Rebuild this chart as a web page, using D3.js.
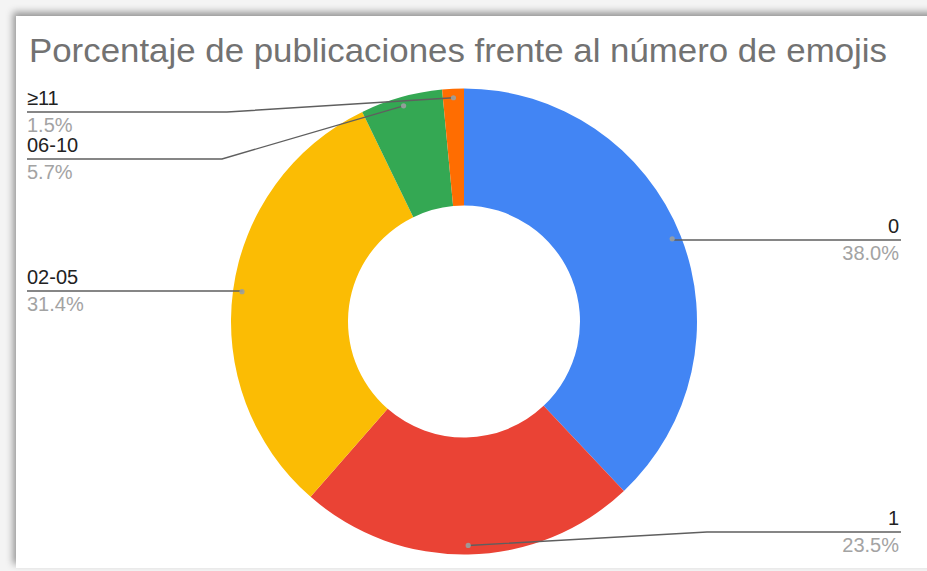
<!DOCTYPE html>
<html>
<head>
<meta charset="utf-8">
<script src="https://cdn.jsdelivr.net/npm/d3@7"></script>
<style>
  html, body { margin: 0; padding: 0; background: #f4f4f4; }
  #card {
    position: absolute; left: 16px; top: 16px; width: 930px; height: 552px;
    background: #ffffff;
    box-shadow: -3px -4px 7px rgba(0,0,0,0.38);
  }
  svg { position: absolute; left: 0; top: 0; }
</style>
</head>
<body>
<div id="card"></div>
<svg id="chart" width="927" height="571"></svg>
<script>
// ---- data ----
const title = "Porcentaje de publicaciones frente al número de emojis";
const categories = ["0", "1", "02-05", "06-10", "≥11"];
const values = [38.0, 23.5, 31.4, 5.7, 1.5];
const colors = ["#4285f4", "#ea4335", "#fbbc04", "#34a853", "#ff6d01"];

// ---- label layout (screen placement of each callout) ----
const labelSide  = ["right", "right", "left", "left", "left"];
const labelLineY = [240, 532, 291, 159, 112];
const labelElbow = [null, 707, null, 222, 227];

const W = 927, H = 571;
const cx = 464, cy = 321.5, outerR = 233, innerR = 116, dotR = 224;
const leftX = 27, rightX = 901;

const svg = d3.select("#chart");

svg.append("text")
  .attr("x", 29).attr("y", 62)
  .attr("font-family", "Liberation Sans, Arial, sans-serif")
  .attr("font-size", 33.5)
  .attr("fill", "#727272")
  .attr("textLength", 858)
  .attr("lengthAdjust", "spacingAndGlyphs")
  .text(title);

const pie = d3.pie().sort(null).value(d => d)
  .startAngle(0).endAngle(2 * Math.PI);
const arcs = pie(values);
const arc = d3.arc().innerRadius(innerR).outerRadius(outerR);

const g = svg.append("g").attr("transform", `translate(${cx},${cy})`);
g.selectAll("path.slice").data(arcs).enter().append("path")
  .attr("class", "slice")
  .attr("d", arc)
  .attr("fill", (d, i) => colors[i]);

const fmt = d3.format(".1f");
const dotArc = d3.arc().innerRadius(dotR).outerRadius(dotR);

arcs.forEach((a, i) => {
  const [dx, dy] = dotArc.centroid(a);
  const px = cx + dx, py = cy + dy;
  const ly = labelLineY[i];
  const side = labelSide[i];
  const endX = side === "right" ? rightX : leftX;
  const elbowX = labelElbow[i] != null ? labelElbow[i] : px;
  const pts = [[px, py], [elbowX, ly], [endX, ly]];
  svg.append("path")
    .attr("d", d3.line()(pts))
    .attr("fill", "none")
    .attr("stroke", "#5f5f5f")
    .attr("stroke-width", 1.4);
  svg.append("circle")
    .attr("cx", px).attr("cy", py).attr("r", 2.6)
    .attr("fill", "#9aa0a0").attr("opacity", 0.9);
  const anchor = side === "right" ? "end" : "start";
  const tx = side === "right" ? rightX - 2 : leftX;
  svg.append("text")
    .attr("x", tx).attr("y", ly - 7)
    .attr("text-anchor", anchor)
    .attr("font-family", "Liberation Sans, Arial, sans-serif")
    .attr("font-size", 20)
    .attr("fill", "#222222")
    .text(categories[i]);
  svg.append("text")
    .attr("x", tx).attr("y", ly + 20)
    .attr("text-anchor", anchor)
    .attr("font-family", "Liberation Sans, Arial, sans-serif")
    .attr("font-size", 20)
    .attr("fill", "#a3a3a3")
    .text(fmt(values[i]) + "%");
});
</script>
</body>
</html>
